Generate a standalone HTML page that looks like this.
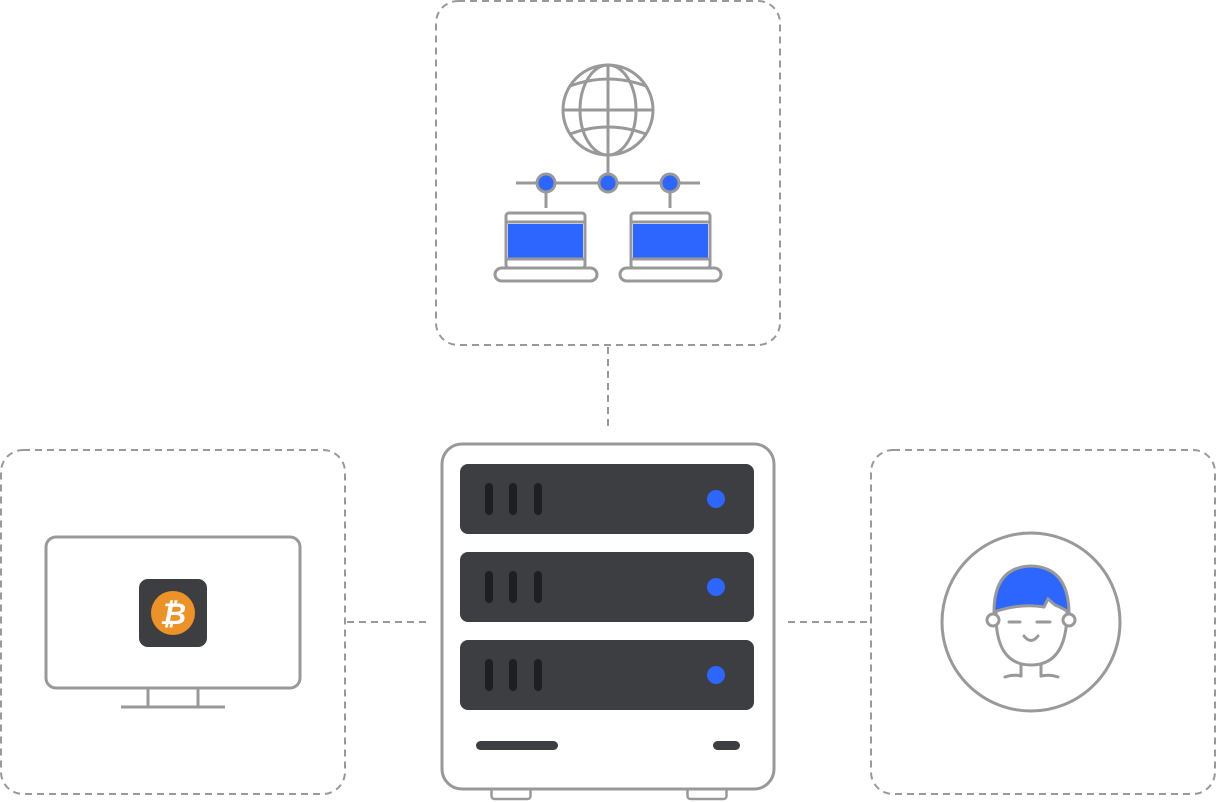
<!DOCTYPE html>
<html><head><meta charset="utf-8"><style>
html,body{margin:0;padding:0;background:#fff;width:1216px;height:802px;overflow:hidden}
svg{display:block}
</style></head><body>
<svg width="1216" height="802" viewBox="0 0 1216 802" xmlns="http://www.w3.org/2000/svg">
<g fill="none" stroke="#999" stroke-width="2" stroke-dasharray="7 5">
<rect x="436" y="1" width="344" height="344" rx="22"/>
<rect x="1" y="450" width="344" height="344" rx="22"/>
<rect x="871" y="450" width="344" height="344" rx="22"/>
<line x1="608" y1="347" x2="608" y2="430"/>
<line x1="347" y1="622" x2="430" y2="622"/>
<line x1="788" y1="622" x2="871" y2="622"/>
</g>
<!-- server -->
<rect x="491.5" y="786" width="39" height="13" rx="3" fill="#fff" stroke="#999" stroke-width="2.5"/>
<rect x="687.5" y="786" width="39" height="13" rx="3" fill="#fff" stroke="#999" stroke-width="2.5"/>
<rect x="442" y="444" width="332" height="345" rx="20" fill="#fff" stroke="#999" stroke-width="3"/>
<g fill="#3d3e42">
<rect x="460" y="464" width="294" height="70" rx="8"/>
<rect x="460" y="552" width="294" height="70" rx="8"/>
<rect x="460" y="640" width="294" height="70" rx="8"/>
<rect x="476" y="741" width="82" height="9" rx="4.5"/>
<rect x="713" y="741" width="27" height="9" rx="4.5"/>
</g>
<g fill="#1e1f22">
<rect x="485" y="483" width="8" height="32" rx="4"/><rect x="509" y="483" width="8" height="32" rx="4"/><rect x="534" y="483" width="8" height="32" rx="4"/>
<rect x="485" y="571" width="8" height="32" rx="4"/><rect x="509" y="571" width="8" height="32" rx="4"/><rect x="534" y="571" width="8" height="32" rx="4"/>
<rect x="485" y="659" width="8" height="32" rx="4"/><rect x="509" y="659" width="8" height="32" rx="4"/><rect x="534" y="659" width="8" height="32" rx="4"/>
</g>
<g fill="#2d66ff"><circle cx="716" cy="499" r="9"/><circle cx="716" cy="587" r="9"/><circle cx="716" cy="675" r="9"/></g>
<!-- network -->
<g stroke="#999" stroke-width="3" fill="none">
<circle cx="608" cy="110" r="45"/>
<ellipse cx="608" cy="110" rx="28" ry="45"/>
<line x1="608" y1="65" x2="608" y2="175"/>
<line x1="563" y1="110" x2="653" y2="110"/>
<path d="M570 86 Q608 72 646 86"/>
<path d="M570 134 Q608 120 646 134"/>
<line x1="516" y1="183" x2="700" y2="183"/>
<line x1="546" y1="190" x2="546" y2="208"/>
<line x1="670" y1="190" x2="670" y2="208"/>
<rect x="506" y="213" width="79" height="55" rx="3" fill="#fff"/>
<rect x="631" y="213" width="79" height="55" rx="3" fill="#fff"/>
<rect x="495" y="268" width="102" height="13" rx="6.5" fill="#fff"/>
<rect x="620" y="268" width="101" height="13" rx="6.5" fill="#fff"/>
</g>
<rect x="508" y="224" width="75" height="34" fill="#2d66ff"/>
<rect x="633" y="224" width="75" height="34" fill="#2d66ff"/>
<line x1="506" y1="222" x2="585" y2="222" stroke="#999" stroke-width="3"/>
<line x1="506" y1="259" x2="585" y2="259" stroke="#999" stroke-width="3"/>
<line x1="631" y1="222" x2="710" y2="222" stroke="#999" stroke-width="3"/>
<line x1="631" y1="259" x2="710" y2="259" stroke="#999" stroke-width="3"/>
<g fill="#2d66ff" stroke="#999" stroke-width="3">
<circle cx="546" cy="183" r="9"/><circle cx="608" cy="183" r="9"/><circle cx="670" cy="183" r="9"/>
</g>
<!-- monitor -->
<g stroke="#999" stroke-width="3" fill="none">
<rect x="46" y="537" width="254" height="151" rx="10"/>
<path d="M148 689 V707 M198 689 V707 M121 707 H225"/>
</g>
<rect x="139" y="579" width="68" height="68" rx="9" fill="#3d3e42"/>
<circle cx="173" cy="613" r="22" fill="#ec9226"/>
<text x="173" y="624" text-anchor="middle" font-family="Liberation Sans, sans-serif" font-weight="bold" font-style="italic" font-size="30" fill="#fff">₿</text>
<!-- face -->
<g stroke="#999" stroke-width="3" fill="none" stroke-linecap="round">
<circle cx="1031" cy="622" r="89"/>
<path d="M994 612 Q994 567 1031 566 Q1068 567 1069 612 Q1060 607 1055 605 L1048 599 L1044 607 Q1020 603 994 612Z" fill="#2d66ff"/>
<path d="M996 612 Q995 665 1031 665 Q1067 665 1067 612"/>
<circle cx="993" cy="620" r="6" fill="#fff"/>
<circle cx="1069" cy="620" r="6" fill="#fff"/>
<path d="M1009 622 H1020 M1037 622 H1050"/>
<path d="M1024 636 Q1031 645 1038 636"/>
<path d="M1021 665 V676 M1041 665 V676"/>
<path d="M1005 677 Q1013 674 1021 676 M1041 676 Q1050 674 1058 677"/>
</g>
</svg>
</body></html>
